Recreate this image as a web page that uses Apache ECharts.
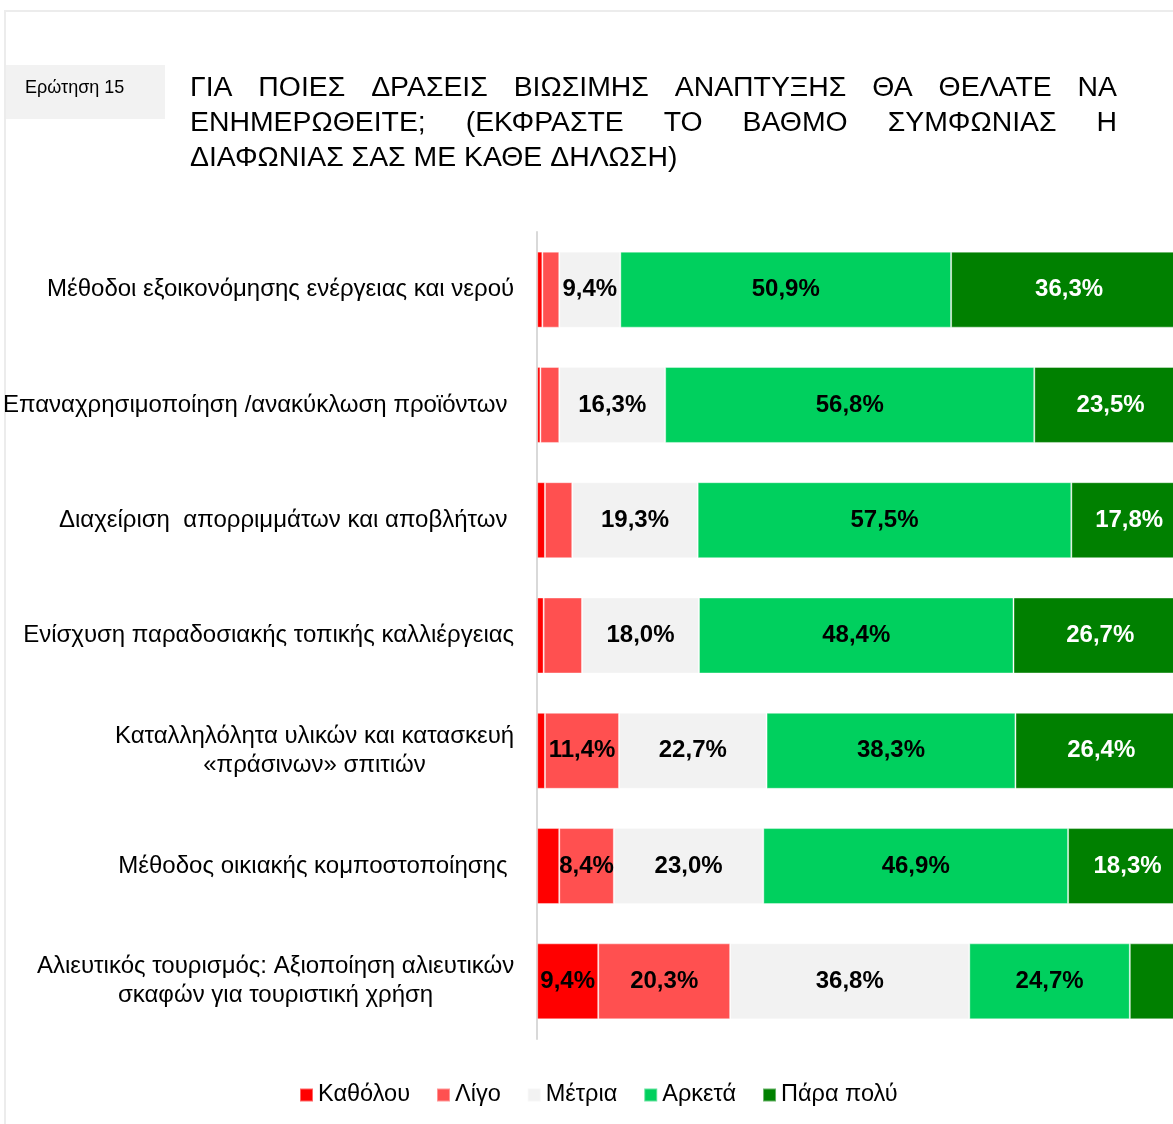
<!DOCTYPE html>
<html>
<head>
<meta charset="utf-8">
<script src="https://cdn.jsdelivr.net/npm/echarts@6/dist/echarts.min.js"></script>
<style>
html,body{margin:0;padding:0;background:#fff;overflow:hidden;}
#chart{width:1187px;height:1124px;}
</style>
</head>
<body>
<div id="chart"></div>
<script>
/* Ερώτηση 15 - οριζόντιο 100% stacked bar (η δεξιά άκρη κόβεται όπως στο πρωτότυπο) */
var categories = [
    'Μέθοδοι εξοικονόμησης ενέργειας και νερού',
    'Επαναχρησιμοποίηση /ανακύκλωση προϊόντων ',
    'Διαχείριση  απορριμμάτων και αποβλήτων ',
    'Ενίσχυση παραδοσιακής τοπικής καλλιέργειας',
    'Καταλληλόλητα υλικών και κατασκευή\n«πράσινων» σπιτιών',
    'Μέθοδος οικιακής κομποστοποίησης ',
    'Αλιευτικός τουρισμός: Αξιοποίηση αλιευτικών\nσκαφών για τουριστική χρήση'
];
var seriesNames = ['Καθόλου', 'Λίγο', 'Μέτρια', 'Αρκετά', 'Πάρα πολύ'];
var katholou = [0.8, 0.5, 1.2, 1.0, 1.2, 3.4, 9.4];
var ligo     = [2.6, 2.9, 4.2, 5.9, 11.4, 8.4, 20.3];
var metria   = [9.4, 16.3, 19.3, 18.0, 22.7, 23.0, 36.8];
var arketa   = [50.9, 56.8, 57.5, 48.4, 38.3, 46.9, 24.7];
var paraPoly = [36.3, 23.5, 17.8, 26.7, 26.4, 18.3, 8.8];
var titleLines = [
    'ΓΙΑ ΠΟΙΕΣ ΔΡΑΣΕΙΣ ΒΙΩΣΙΜΗΣ ΑΝΑΠΤΥΞΗΣ ΘΑ ΘΕΛΑΤΕ ΝΑ',
    'ΕΝΗΜΕΡΩΘΕΙΤΕ; (ΕΚΦΡΑΣΤΕ ΤΟ ΒΑΘΜΟ ΣΥΜΦΩΝΙΑΣ Η',
    'ΔΙΑΦΩΝΙΑΣ ΣΑΣ ΜΕ ΚΑΘΕ ΔΗΛΩΣΗ)'
];

var colors = ['#ff0000', '#ff5050', '#f2f2f2', '#00d05e', '#008000'];
var fontFamily = '"Liberation Sans", Arial, sans-serif';

// justified title, word by word
var titleFont = '28.4px "Liberation Sans"';
var ctx = document.createElement('canvas').getContext('2d');
ctx.font = titleFont;
var titleLeft = 190, titleRight = 1117;
var titleGraphics = [];
titleLines.forEach(function(line, i){
    var words = line.split(' ');
    var y = 88 + i * 35;
    if (i === titleLines.length - 1) {
        titleGraphics.push({type:'text', x:titleLeft, y:y,
            style:{text:line, font:titleFont, fill:'#000', textVerticalAlign:'middle'}});
        return;
    }
    var total = 0;
    words.forEach(function(w){ total += ctx.measureText(w).width; });
    var gap = (titleRight - titleLeft - total) / (words.length - 1);
    var x = titleLeft;
    words.forEach(function(w){
        titleGraphics.push({type:'text', x:x, y:y, style:{text:w, font:titleFont, fill:'#000', textVerticalAlign:'middle'}});
        x += ctx.measureText(w).width + gap;
    });
});

function fmt(p){
    if (p.value < 8) return '';
    return p.value.toFixed(1).replace('.', ',') + '%';
}

var seriesData = [katholou, ligo, metria, arketa, paraPoly];
var series = seriesData.map(function(arr, idx){
    return {
        name: seriesNames[idx],
        type: 'bar',
        stack: 'total',
        barWidth: 76,
        itemStyle: {color: colors[idx], borderColor: 'rgba(255,255,255,0.4)', borderWidth: 1},
        label: {
            show: true,
            position: 'inside',
            formatter: fmt,
            color: idx === 4 ? '#fff' : '#000',
            fontWeight: 'bold',
            fontSize: 24,
            fontFamily: fontFamily
        },
        data: arr.map(function(v, i){
            if (idx === 4 && i === 6) return {value: v, label: {show: false}};
            return v;
        })
    };
});

var myChart = echarts.init(document.getElementById('chart'));
var option = {
    backgroundColor: '#fff',
    animation: false,
    textStyle: {fontFamily: fontFamily},
    graphic: [
        {type:'rect', shape:{x:5, y:11, width:1250, height:1200}, style:{fill:'none', stroke:'#ececec', lineWidth:2}},
        {type:'rect', shape:{x:6, y:65, width:159, height:54}, style:{fill:'#f2f2f2'}},
        {type:'text', x:25, y:88, style:{text:'Ερώτηση 15', font:'18px "Liberation Sans"', fill:'#000', textVerticalAlign:'middle'}}
    ].concat(titleGraphics),
    legend: {
        bottom: 12,
        left: 294,
        icon: 'rect',
        itemWidth: 13,
        itemHeight: 13,
        itemGap: 26,
        textStyle: {fontSize: 23.5, color: '#000', fontFamily: fontFamily},
        data: seriesNames
    },
    grid: {left: 536, right: 0, top: 232, bottom: 85},
    xAxis: {type: 'value', min: 0, max: 100, show: false},
    yAxis: {
        type: 'category',
        inverse: true,
        data: categories,
        axisLine: {lineStyle: {color: '#d9d9d9', width: 2}},
        axisTick: {length: 8, lineStyle: {color: '#d9d9d9', width: 2}},
        axisLabel: {
            margin: 23,
            fontSize: 24,
            color: '#000',
            lineHeight: 29,
            fontFamily: fontFamily,
            formatter: function(v){ return '{c|' + v + '}'; },
            rich: {c: {align: 'center', fontSize: 24, lineHeight: 29, color: '#000', fontFamily: fontFamily}}
        }
    },
    series: series
};
myChart.setOption(option);
</script>
</body>
</html>
